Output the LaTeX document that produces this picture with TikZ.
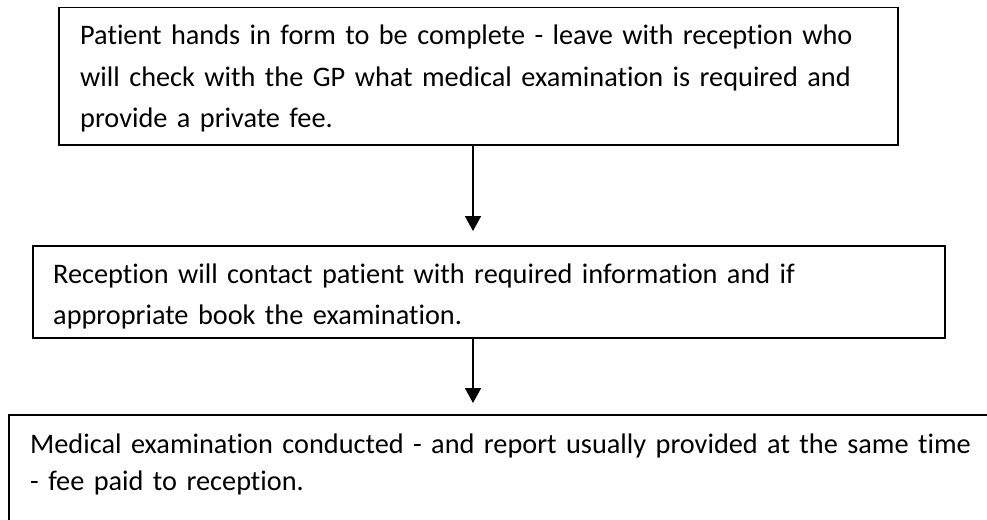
\documentclass[tikz,border=0pt]{standalone}
\usepackage{fontspec}
\setmainfont{Carlito}[Ligatures=NoCommon]
\usetikzlibrary{arrows.meta,calc}

\tikzset{
	box/.style={draw, line width=1.5pt, anchor=north west, inner sep=0pt},
	txt/.style={anchor=base west, align=left, inner sep=0pt, text width=980pt, font=\fontsize{28.3}{41.5}\selectfont},
	flow/.style={line width=1.8pt, -{Triangle[width=16pt,length=15pt]}}
}

\begin{document}
\begin{tikzpicture}[x=1pt, y=-1pt]
		
		\useasboundingbox (0,0) rectangle (987,519);
		
		% frames
		\node[box, minimum width=839pt, minimum height=137pt] (box1) at (58,7) {};
		\node[box, minimum width=912pt, minimum height=92pt] (box2) at (32,245) {};
		\node[box, minimum width=1000pt, minimum height=150pt] (box3) at (8,414) {};
		
		% texts
		\node[txt] (text1) at (80,45) {Patient hands in form to be complete - leave with reception who\\will check with the GP what medical examination is required and\\provide a private fee.};
		
		\begin{scope}
		\clip (box2.north west) rectangle ($(box2.south east)+(0,-9)$);
		\node[txt] (text2) at (53,283) {Reception will contact patient with required information and if\\appropriate book the examination.};
		\end{scope}
		
		\node[txt, font=\fontsize{28.3}{37}\selectfont] (text3) at (30,453) {Medical examination conducted - and report usually provided at the same time\\- fee paid to reception.};
		
		% arrows
		\coordinate (spine) at (473,0);
		\draw[flow, shorten >=14pt] (box1.south -| spine) -- (box2.north -| spine);
		\draw[flow, shorten >=11pt] (box2.south -| spine) -- (box3.north -| spine);
		
\end{tikzpicture}
\end{document}
